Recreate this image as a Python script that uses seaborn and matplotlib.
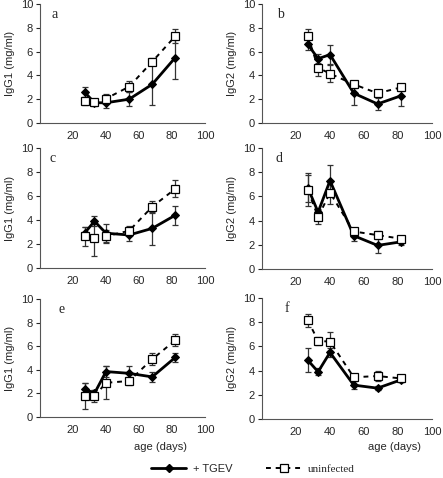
import pandas as pd
import matplotlib.pyplot as plt
import seaborn as sns
from matplotlib.lines import Line2D

# age points (days)
age = [27, 33, 40, 54, 68, 82]

# panel values: mean and error (+/-)
tgev_a = [2.6, 1.7, 1.7, 2.0, 3.25, 5.5]
tgev_a_err = [0.4, 0.3, 0.4, 0.6, 1.7, 1.8]
uninf_a = [1.85, 1.75, 2.05, 3.05, 5.15, 7.3]
uninf_a_err = [0.3, 0.2, 0.35, 0.45, 0.3, 0.6]

tgev_b = [6.6, 5.4, 5.75, 2.5, 1.6, 2.3]
tgev_b_err = [0.5, 0.4, 0.8, 1.0, 0.5, 0.9]
uninf_b = [7.3, 4.65, 4.15, 3.25, 2.5, 3.0]
uninf_b_err = [0.6, 0.7, 0.7, 0.3, 0.3, 0.3]

tgev_c = [2.9, 3.9, 2.9, 2.75, 3.3, 4.4]
tgev_c_err = [0.5, 0.4, 0.8, 0.5, 1.4, 0.8]
uninf_c = [2.65, 2.5, 2.65, 3.1, 5.1, 6.6]
uninf_c_err = [0.8, 1.5, 0.5, 0.4, 0.5, 0.7]

tgev_d = [6.7, 4.7, 7.3, 2.75, 1.95, 2.25]
tgev_d_err = [1.2, 0.3, 1.3, 0.4, 0.6, 0.3]
uninf_d = [6.5, 4.3, 6.3, 3.1, 2.8, 2.5]
uninf_d_err = [1.3, 0.6, 0.9, 0.3, 0.3, 0.2]

tgev_e = [2.4, 2.0, 3.85, 3.7, 3.4, 5.05]
tgev_e_err = [0.5, 0.3, 0.5, 0.6, 0.4, 0.35]
uninf_e = [1.8, 1.75, 2.9, 3.05, 4.9, 6.5]
uninf_e_err = [1.1, 0.5, 1.4, 0.3, 0.5, 0.5]

tgev_f = [4.85, 3.9, 5.5, 2.8, 2.55, 3.25]
tgev_f_err = [1.0, 0.3, 0.4, 0.3, 0.15, 0.2]
uninf_f = [8.15, 6.45, 6.4, 3.45, 3.55, 3.35]
uninf_f_err = [0.55, 0.3, 0.8, 0.3, 0.4, 0.3]

panels = [
    ("a", "IgG1 (mg/ml)", tgev_a, tgev_a_err, uninf_a, uninf_a_err),
    ("b", "IgG2 (mg/ml)", tgev_b, tgev_b_err, uninf_b, uninf_b_err),
    ("c", "IgG1 (mg/ml)", tgev_c, tgev_c_err, uninf_c, uninf_c_err),
    ("d", "IgG2 (mg/ml)", tgev_d, tgev_d_err, uninf_d, uninf_d_err),
    ("e", "IgG1 (mg/ml)", tgev_e, tgev_e_err, uninf_e, uninf_e_err),
    ("f", "IgG2 (mg/ml)", tgev_f, tgev_f_err, uninf_f, uninf_f_err),
]

sns.set_style("ticks")
plt.rcParams['font.family'] = ['Liberation Sans', 'DejaVu Sans']

fig = plt.figure(figsize=(4.43, 4.78), dpi=100)

W, H = 443, 478
# left, top, right, bottom in pixels for each panel
boxes = [
    (40, 4, 205, 123), (262, 4, 432, 123),
    (40, 148, 205, 268), (262, 148, 432, 269),
    (40, 299, 205, 417), (262, 298, 432, 419),
]
letter_x = [0.07, 0.09, 0.06, 0.08, 0.11, 0.13]

for (letter, ylab, tg, tge, un, une), (l, t, r, b), lx in zip(panels, boxes, letter_x):
    ax = fig.add_axes([l / W, 1 - b / H, (r - l) / W, (b - t) / H])
    df = pd.DataFrame({"age": age * 2,
                       "val": tg + un,
                       "err": tge + une,
                       "group": ["+ TGEV"] * 6 + ["uninfected"] * 6})
    d_t = df[df.group == "+ TGEV"]
    d_u = df[df.group == "uninfected"]
    ax.errorbar(d_t.age, d_t.val, yerr=d_t.err, fmt="none", ecolor="#333333",
                elinewidth=0.9, capsize=2.3, capthick=0.9, zorder=2)
    ax.errorbar(d_u.age, d_u.val, yerr=d_u.err, fmt="none", ecolor="#333333",
                elinewidth=0.9, capsize=2.3, capthick=0.9, zorder=2)
    sns.lineplot(data=d_t, x="age", y="val", ax=ax, color="black", lw=2,
                 marker="D", markersize=4.5, markerfacecolor="black",
                 markeredgecolor="black", zorder=3, legend=False)
    sns.lineplot(data=d_u, x="age", y="val", ax=ax, color="black", lw=1.4,
                 linestyle=(0, (2.5, 2.5)), marker="s", markersize=6,
                 markerfacecolor="white", markeredgecolor="black",
                 markeredgewidth=0.9, zorder=4, legend=False)
    ax.set_xlim(0, 100)
    ax.set_ylim(0, 10)
    ax.set_xticks([20, 40, 60, 80, 100])
    ax.set_yticks([0, 2, 4, 6, 8, 10])
    ax.tick_params(labelsize=8, length=3, width=0.8, pad=2)
    ax.tick_params(axis="x", length=0, pad=6)
    ax.set_xlabel("")
    ax.set_ylabel(ylab, fontsize=8, labelpad=4)
    for s in ["top", "right"]:
        ax.spines[s].set_visible(False)
    for s in ["left", "bottom"]:
        ax.spines[s].set_color("#555555")
        ax.spines[s].set_linewidth(0.8)
    ax.text(lx, 0.97, letter, transform=ax.transAxes, fontsize=10,
            family="Liberation Serif", va="top")

fig.text(160 / W, 1 - 447 / H, "age (days)", ha="center", va="center", fontsize=8)
fig.text(394 / W, 1 - 447 / H, "age (days)", ha="center", va="center", fontsize=8)

h1 = Line2D([], [], color="black", lw=2, marker="D", markersize=4.5)
h2 = Line2D([], [], color="black", lw=1.4, linestyle=(0, (2.5, 2.5)), marker="s",
            markersize=6, markerfacecolor="white", markeredgewidth=0.9)
leg = fig.legend([h1, h2], ["+ TGEV", "uninfected"], loc="center",
                 bbox_to_anchor=(253 / W, 1 - 469 / H), ncol=2, frameon=False,
                 fontsize=8, handlelength=3.2, columnspacing=3, handletextpad=0.6)
leg.get_texts()[1].set_family("Liberation Serif")

fig.savefig("out.png", dpi=100)
